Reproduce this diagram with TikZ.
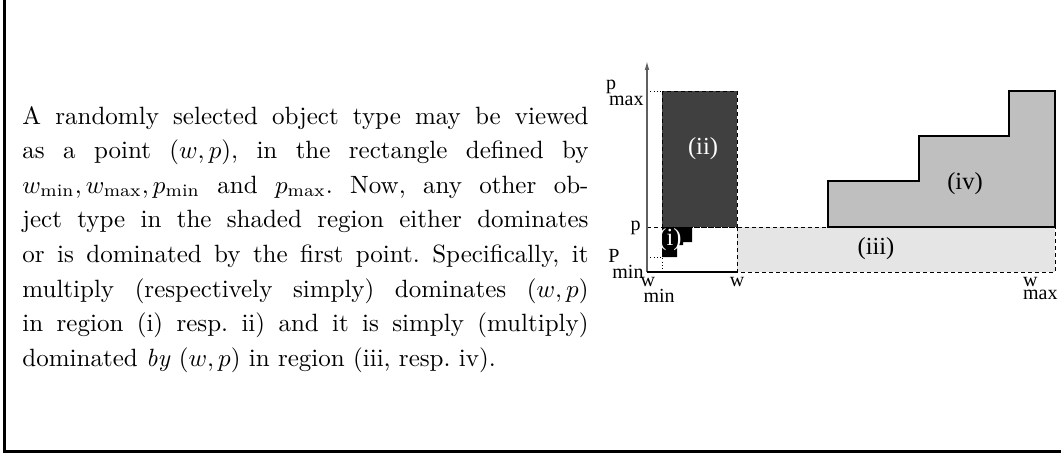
\documentclass[tikz,border=0pt]{standalone}
\usepackage{fontspec}
\usepackage{amsmath}
\newfontfamily\figfont{Liberation Serif}
\usetikzlibrary{arrows.meta}
\frenchspacing

\begin{document}
\begin{tikzpicture}[
    x=0.4pt, y=-0.4pt,
    >=Latex,
    textblock/.style={
        anchor=north west,
        inner sep=0pt,
        text width=226.4pt,
        align=justify,
        font=\fontsize{10}{13.84}\selectfont
    },
    axislabel/.style={
        font=\figfont\fontsize{8}{5.2}\selectfont,
        inner sep=0pt,
        align=left
    },
    regionlabel/.style={
        font=\figfont\fontsize{9.8}{11}\selectfont,
        inner sep=0pt
    },
    dashedline/.style={line width=0.4pt, dash pattern=on 1.6pt off 1.2pt},
    dottedline/.style={line width=0.4pt, dash pattern=on 0.4pt off 0.9pt},
    stairline/.style={line width=0.45pt},
    framebar/.style={line width=1.2pt}
]
\useasboundingbox (0,0) rectangle (1061,454);

% frame
\draw[framebar] (4.5,0) |- (1061,451.5);

% text
\node[textblock] (para) at (22,105.6)
{A randomly selected object type may be viewed\linebreak
as a point $(w,p)$, in the rectangle defined by\linebreak
$w_{\min}, w_{\max}, p_{\min}$ and $p_{\max}$. Now, any other ob-\linebreak
ject type in the shaded region either dominates\linebreak
or is dominated by the first point. Specifically, it\linebreak
multiply (respectively simply) dominates $(w,p)$\linebreak
in region (i) resp. ii) and it is simply (multiply)\linebreak
dominated \emph{by} $(w,p)$ in region (iii, resp. iv).};

% region (iii)
\fill[black!10] (737,227) rectangle (1055,272);
\draw[dashedline] (647,227) -- (1055,227);
\draw[dashedline] (737,227) -- (737,272) -- (1055,272) -- (1055,227);

% region (iv)
\filldraw[fill=black!25, stairline] (828,227) -- (828,181) -- (919,181) -- (919,136)
    -- (1009,136) -- (1009,91) -- (1055,91) -- (1055,227) -- cycle;

% region (ii)
\fill[black!75] (662,91) rectangle (737,227);
\draw[dashedline] (662,91) rectangle (737,227);

% region (i)
\fill[black] (662,227) -- (692,227) -- (692,242) -- (683,242) -- (683,245)
    -- (677,245) -- (677,257) -- (662,257) -- cycle;

% guide lines
\draw[dottedline] (647,91) -- (662,91);
\draw[dottedline] (647,257) -- (662,257) -- (662,272);

% axes
\draw[gray!75!black, line width=0.5pt, -{Latex[length=3.5pt,width=1.8pt]}] (647,272) -- (647,61);
\draw[line width=0.6pt] (647,272) -- (737,272);

% region labels
\node[regionlabel, text=white] (lbli) at (670,240) {(i)};
\node[regionlabel, text=white] (lblii) at (703,149) {(ii)};
\node[regionlabel] (lbliii) at (876,249) {(iii)};
\node[regionlabel] (lbliv) at (965,184) {(iv)};

% axis labels
\node[axislabel, anchor=east] (pmax) at (644,93) {p\\\hspace*{1.2pt}max};
\node[axislabel, anchor=east] (pval) at (641,228) {p};
\node[axislabel, anchor=east] (pmin) at (644,264) {P\\\hspace*{1.6pt}min};
\node[axislabel, anchor=north west] (wmin) at (640,277) {w\\\hspace*{1.2pt}min};
\node[axislabel, anchor=north] (wval) at (737,277) {w};
\node[axislabel, anchor=north east] (wmax) at (1058,277) {w\hspace*{5pt}\\max};

\end{tikzpicture}
\end{document}
